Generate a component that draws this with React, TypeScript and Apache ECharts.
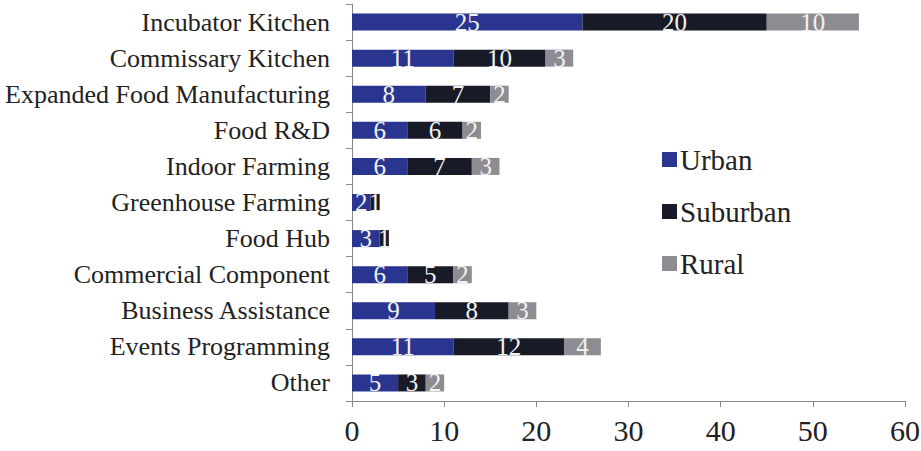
import React, { useEffect, useRef } from "react";
import * as echarts from "echarts";

const categories = [
  "Incubator Kitchen",
  "Commissary Kitchen",
  "Expanded Food Manufacturing",
  "Food R&D",
  "Indoor Farming",
  "Greenhouse Farming",
  "Food Hub",
  "Commercial Component",
  "Business Assistance",
  "Events Programming",
  "Other",
];
const urban = [25, 11, 8, 6, 6, 2, 3, 6, 9, 11, 5];
const suburban = [20, 10, 7, 6, 7, 1, 1, 5, 8, 12, 3];
const rural = [10, 3, 2, 2, 3, 0, 0, 2, 3, 4, 2];
const xTicks = [0, 10, 20, 30, 40, 50, 60];

const FONT = "'Liberation Serif', 'Times New Roman', serif";

export default function App() {
  const ref = useRef<HTMLDivElement>(null);
  useEffect(() => {
    if (!ref.current) return;
    const chart = echarts.init(ref.current, undefined, { renderer: "svg" });
    const mk = (name: string, data: number[], color: string) => ({
      name,
      type: "bar",
      stack: "total",
      data,
      barWidth: 17,
      itemStyle: { color },
      label: {
        show: true,
        position: "inside",
        color: "#f2f2f2",
        fontFamily: FONT,
        fontSize: 25,
        formatter: (p: any) => (p.value ? String(p.value) : ""),
      },
    });
    chart.setOption({
      animation: false,
      backgroundColor: "#ffffff",
      grid: { left: 352, right: 16, top: 4, bottom: 50, containLabel: false, outerBoundsMode: "none" },
      legend: {
        orient: "vertical",
        left: 657,
        top: 139,
        itemWidth: 15,
        itemHeight: 15,
        itemGap: 21,
        icon: "rect",
        textStyle: { fontFamily: FONT, fontSize: 29, color: "#222", lineHeight: 31, padding: [0, 0, 0, -2] },
        data: ["Urban", "Suburban", "Rural"],
      },
      xAxis: {
        type: "value",
        min: 0,
        max: 60,
        interval: 10,
        splitLine: { show: false },
        axisLine: { show: true, lineStyle: { color: "#888", width: 1 } },
        axisTick: { show: true, length: 6, lineStyle: { color: "#888" } },
        axisLabel: {
          fontFamily: FONT,
          fontSize: 30,
          color: "#222",
          margin: 14,
          formatter: (v: number) => (xTicks.includes(v) ? String(v) : ""),
        },
      },
      yAxis: {
        type: "category",
        inverse: true,
        data: categories,
        axisLine: { show: true, lineStyle: { color: "#888", width: 1 } },
        axisTick: { show: true, length: 6, lineStyle: { color: "#888" } },
        axisLabel: { fontFamily: FONT, fontSize: 26, color: "#222", margin: 22 },
      },
      series: [
        mk("Urban", urban, "#2a3590"),
        mk("Suburban", suburban, "#191a28"),
        mk("Rural", rural, "#8c8c92"),
      ],
    });
    return () => chart.dispose();
  }, []);
  return <div ref={ref} style={{ width: 921, height: 451, position: "absolute", left: 0, top: 0 }} />;
}
